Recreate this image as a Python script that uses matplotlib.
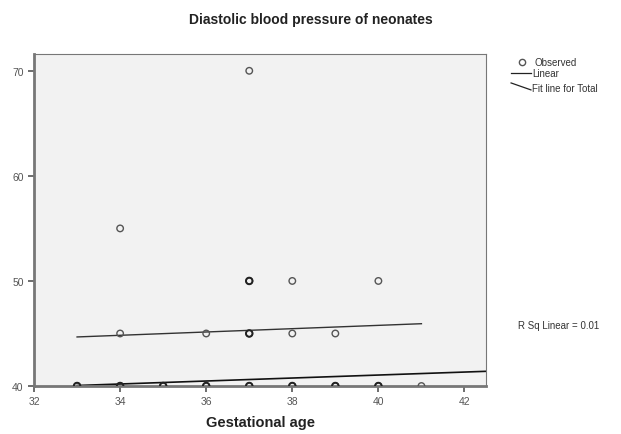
import numpy as np
import matplotlib.pyplot as plt

plt.rcParams["font.family"] = ["Liberation Sans", "DejaVu Sans"]

# observed points (gestational age, diastolic bp)
ages = [37, 34, 37, 38, 40, 34, 36, 37, 38, 39,
        33, 34, 35, 36, 37, 38, 39, 40, 41]
bp = [70, 55, 50, 50, 50, 45, 45, 45, 45, 45,
      40, 40, 40, 40, 40, 40, 40, 40, 40]
# repeated observations drawn darker
bold_ages = [37, 37, 33, 34, 35, 36, 37, 38, 39, 40]
bold_bp = [50, 45, 40, 40, 40, 40, 40, 40, 40, 40]

# fitted lines (endpoints)
linear_x = [33, 41]
linear_y = [44.67, 45.93]
total_x = [33, 42.5]
total_y = [40.05, 41.4]

fig = plt.figure(figsize=(6.21, 4.35), dpi=100)
ax = fig.add_axes([0.0548, 0.1103, 0.7278, 0.7633])
ax.set_facecolor("#f2f2f2")

ax.scatter(ages, bp, s=22, facecolors="none", edgecolors="#555555", linewidths=1.0, zorder=3)
ax.scatter(bold_ages, bold_bp, s=22, facecolors="none", edgecolors="#222222", linewidths=1.4, zorder=3)
ax.plot(linear_x, linear_y, color="#333333", lw=1.0, zorder=2)
ax.plot(total_x, total_y, color="#111111", lw=1.2, zorder=2)

ax.set_xlim(32, 42.5)
ax.set_ylim(40, 71.6)
ax.set_xticks([32, 34, 36, 38, 40, 42])
ax.set_yticks([40, 50, 60, 70])
ax.tick_params(labelsize=7.5, colors="#555555", length=4, width=1.2)
for s in ax.spines.values():
    s.set_color("#777777")
ax.spines["left"].set_linewidth(2)
ax.spines["bottom"].set_linewidth(2)

ax.set_xlabel("Gestational age", fontsize=10.5, fontweight="bold", color="#222222", labelpad=6)
fig.text(0.5, 0.955, "Diastolic blood pressure of neonates", ha="center", va="center",
         fontsize=10, fontweight="bold", color="#222222")

# legend outside on the right
fig.add_artist(plt.Line2D([0.841], [0.855], marker="o", markersize=4.5, markerfacecolor="none",
                          markeredgecolor="#555555", transform=fig.transFigure))
fig.add_artist(plt.Line2D([0.823, 0.855], [0.830, 0.830], color="#222222", lw=0.9,
                          transform=fig.transFigure))
fig.add_artist(plt.Line2D([0.823, 0.855], [0.807, 0.791], color="#222222", lw=0.9,
                          transform=fig.transFigure))
fig.text(0.860, 0.855, "Observed", fontsize=7, va="center", color="#333333")
fig.text(0.857, 0.830, "Linear", fontsize=7, va="center", color="#333333")
fig.text(0.857, 0.795, "Fit line for Total", fontsize=7, va="center", color="#333333")

fig.text(0.834, 0.25, "R Sq Linear = 0.01", fontsize=7, va="center", color="#333333")

fig.savefig("out.png", dpi=100)
